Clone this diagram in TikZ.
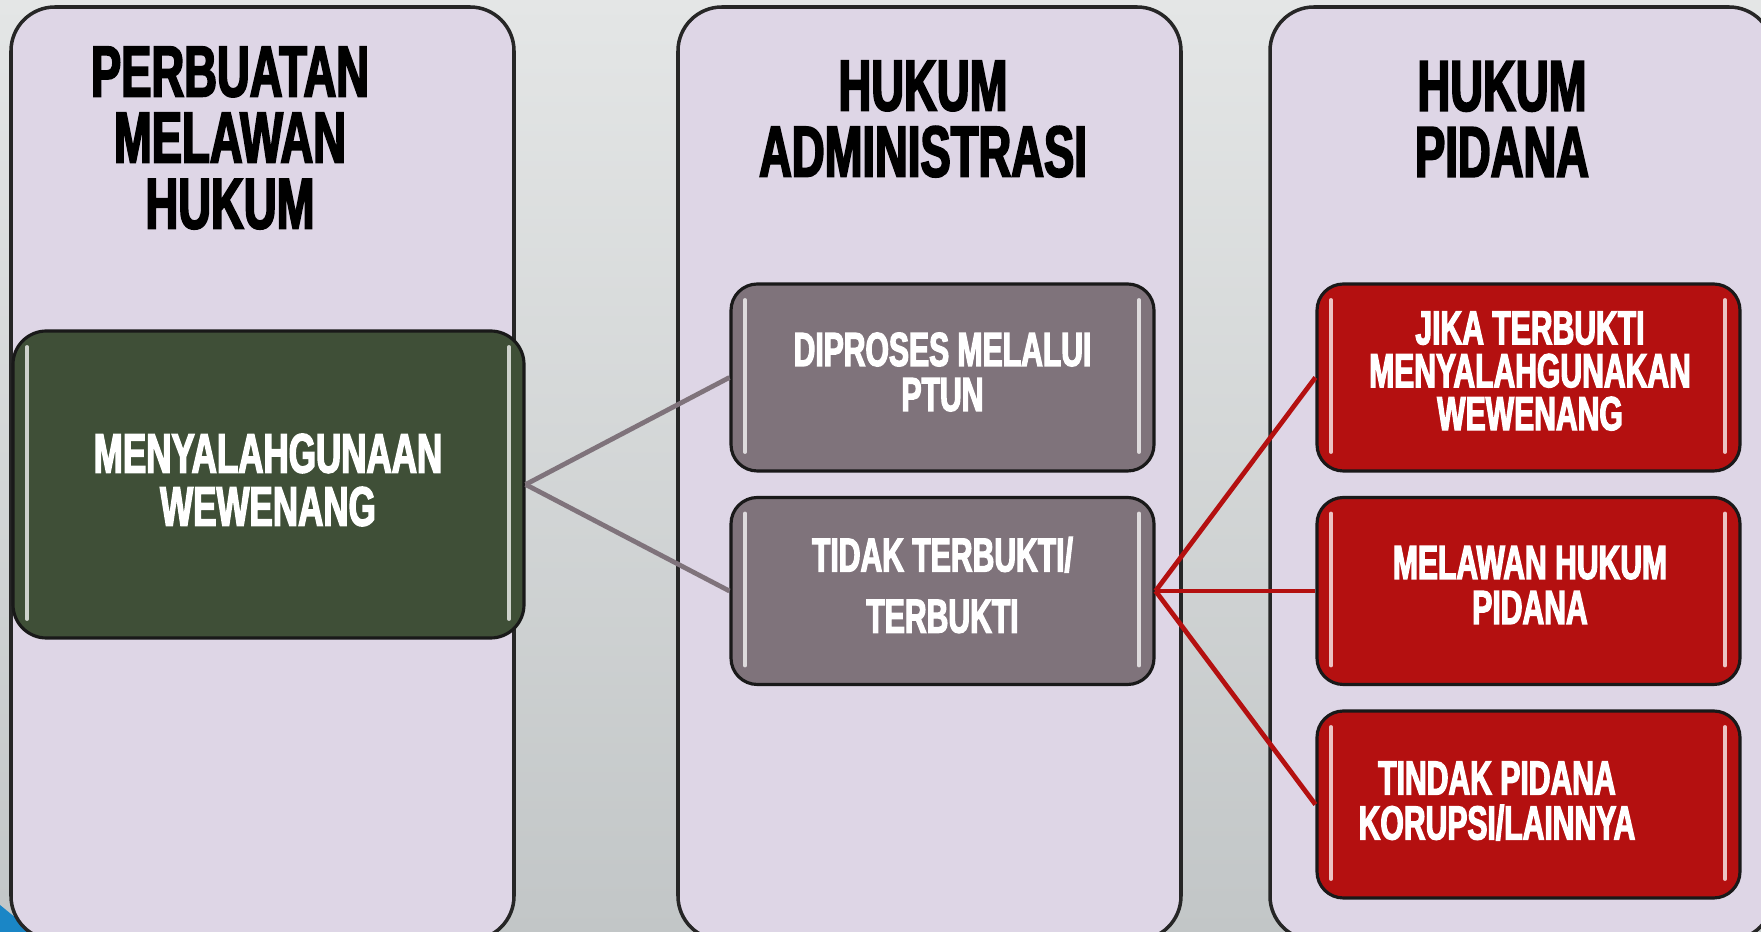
\documentclass[tikz,border=0pt]{standalone}
\usepackage{fontspec}
\setmainfont{Liberation Sans}[FakeStretch=0.63, BoldFeatures={FakeBold=2.5}]
\usetikzlibrary{calc}

\definecolor{lavender}{HTML}{DED6E6}
\definecolor{moss}{HTML}{3F4F37}
\definecolor{mauve}{HTML}{7F737B}
\definecolor{crimson}{HTML}{B41010}
\definecolor{slideblue}{HTML}{1A86C6}
\definecolor{bgtop}{HTML}{E4E6E6}
\definecolor{bgmid}{HTML}{F1F1F1}
\definecolor{bgbot}{HTML}{C2C6C7}

\tikzset{
  column/.style={draw=black!85, line width=1pt, fill=lavender, rounded corners=12.5pt},
  heading/.style={font=\fontsize{20.5}{18.8}\selectfont\bfseries, align=center, inner sep=0pt},
  card/.style={draw=black!90, line width=0.9pt, rounded corners=7.5pt, inner sep=0pt,
    minimum width=42.3mm, minimum height=18.7mm,
    path picture={
      \draw[white, opacity=.75, line width=1.1pt, line cap=round]
        ([xshift=1.4mm,yshift=-1.6mm]path picture bounding box.north west)
        -- ([xshift=1.4mm,yshift=1.9mm]path picture bounding box.south west)
        ([xshift=-1.5mm,yshift=-1.6mm]path picture bounding box.north east)
        -- ([xshift=-1.5mm,yshift=1.9mm]path picture bounding box.south east);
    }},
  cardtext/.style={text=white, font=\fontsize{13.6}{12.8}\selectfont\bfseries, align=center, inner sep=0pt},
  graylink/.style={draw=mauve, line width=1.35pt},
  redlink/.style={draw=crimson, line width=1.35pt},
}

\begin{document}
\begin{tikzpicture}[x=0.1mm, y=-0.1mm]
  \useasboundingbox (0,0) rectangle (1761,932);
  \clip (0,0) rectangle (1761,932);
  % backdrop
  \shade[top color=bgtop, middle color=bgmid, bottom color=bgbot] (0,0) rectangle (1761,932);
  \fill[slideblue] (0,905) -- (33,932) -- (0,932) -- cycle;

  % three columns
  \draw[column] (11,7) rectangle (514,940);
  \draw[column] (678,7) rectangle (1181,940);
  \draw[column] (1270,7) rectangle (1773,940);

  \node[heading] (pmh) at (230,138) {PERBUATAN\\MELAWAN\\HUKUM};
  \node[heading] (hadm) at (923,119) {HUKUM\\ADMINISTRASI};
  \node[heading] (hpid) at (1502,119) {HUKUM\\PIDANA};

  % cards
  \node[card, fill=moss, rounded corners=9.5pt, minimum width=51.1mm, minimum height=30.7mm] (abuse) at (268.5,484.5) {};
  \node[card, fill=mauve] (ptun) at (942.5,377.5) {};
  \node[card, fill=mauve] (proof) at (942.5,591) {};
  \node[card, fill=crimson] (misuse) at (1528.5,377.5) {};
  \node[card, fill=crimson] (unlawful) at (1528.5,591) {};
  \node[card, fill=crimson] (corrupt) at (1528.5,804.5) {};

  \node[cardtext, font=\fontsize{15.8}{15.1}\selectfont\bfseries] (abuse-t) at (268,480) {MENYALAHGUNAAN\\WEWENANG};
  \node[cardtext] (ptun-t) at (942.5,372) {DIPROSES MELALUI\\PTUN};
  \node[cardtext] (proof-t) at (942.5,585) {TIDAK TERBUKTI/\\[4.6pt]TERBUKTI};
  \node[cardtext, font=\fontsize{13.6}{12.2}\selectfont\bfseries] (misuse-t) at (1530,371) {JIKA TERBUKTI\\MENYALAHGUNAKAN\\WEWENANG};
  \node[cardtext] (unlawful-t) at (1530,585) {MELAWAN HUKUM\\PIDANA};
  \node[cardtext] (corrupt-t) at (1497,801) {TINDAK PIDANA\\KORUPSI/LAINNYA};

  % links
  \draw[graylink] (abuse.east) -- (ptun.west);
  \draw[graylink] (abuse.east) -- (proof.west);
  \foreach \n in {misuse,unlawful,corrupt}
    \draw[redlink] (proof.east) -- (\n.west);
\end{tikzpicture}
\end{document}
